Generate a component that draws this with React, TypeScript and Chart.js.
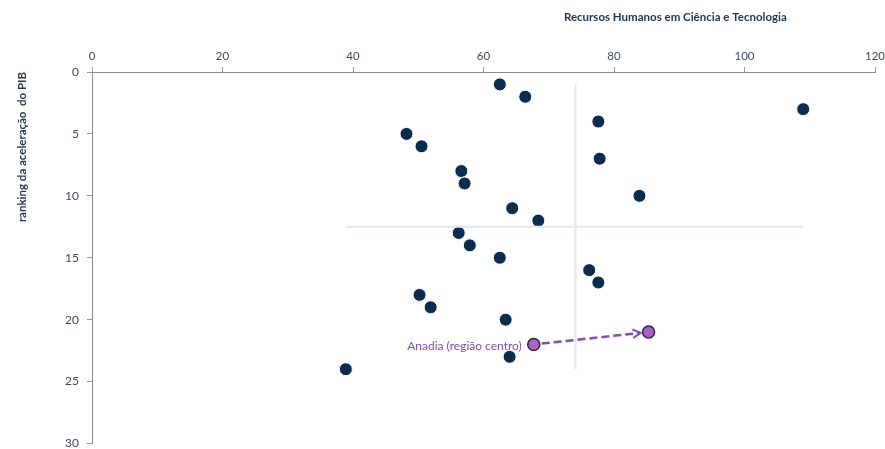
import React, { useEffect, useRef } from "react";
import { Chart, registerables } from "chart.js";

Chart.register(...registerables);

// Navy regions: RHCT (x) vs ranking of GDP acceleration (y)
const regionX = [62.5, 66.4, 109.0, 77.6, 48.2, 50.5, 77.8, 56.6, 57.1, 83.9, 64.4, 68.4, 56.2, 57.9, 62.5, 76.2, 77.6, 50.2, 51.9, 63.4, 64.0, 38.9];
const regionY = [1, 2, 3, 4, 5, 6, 7, 8, 9, 10, 11, 12, 13, 14, 15, 16, 17, 18, 19, 20, 23, 24];

// Anadia: current position and target position
const anadiaX = [67.7, 85.3];
const anadiaY = [22, 21];

// Reference cross lines
const crossVX = [74.1, 74.1];
const crossVY = [1, 24];
const crossHX = [38.9, 109.0];
const crossHY = [12.5, 12.5];

const xTicks = [0, 20, 40, 60, 80, 100, 120];
const yTicks = [0, 5, 10, 15, 20, 25, 30];

const xTitle = "Recursos Humanos em Ciência e Tecnologia";
const yTitle = "ranking da aceleração  do PIB";
const anadiaLabel = "Anadia (região centro)";

const FONT = "Lato, 'Open Sans', sans-serif";
const TICK_COLOR = "#3d4b5c";
const NAVY = "#0b2c4e";
const PURPLE = "#8a4aa8";

export default function App() {
  const ref = useRef<HTMLCanvasElement | null>(null);

  useEffect(() => {
    if (!ref.current) return;

    const overlay = {
      id: "overlay",
      afterDatasetsDraw(chart: any) {
        const ctx = chart.ctx;
        const xs = chart.scales.x;
        const ys = chart.scales.y;
        const x0 = xs.getPixelForValue(anadiaX[0]);
        const y0 = ys.getPixelForValue(anadiaY[0]);
        const x1 = xs.getPixelForValue(anadiaX[1]);
        const y1 = ys.getPixelForValue(anadiaY[1]);
        const ang = Math.atan2(y1 - y0, x1 - x0);
        const sx = x0 + Math.cos(ang) * 8;
        const sy = y0 + Math.sin(ang) * 8;
        const ex = x1 - Math.cos(ang) * 8;
        const ey = y1 - Math.sin(ang) * 8;
        ctx.save();
        ctx.strokeStyle = PURPLE;
        ctx.lineWidth = 2.5;
        ctx.setLineDash([8, 4]);
        ctx.beginPath();
        ctx.moveTo(sx, sy);
        ctx.lineTo(ex, ey);
        ctx.stroke();
        ctx.setLineDash([]);
        ctx.lineWidth = 2;
        const ah = 9;
        ctx.beginPath();
        ctx.moveTo(ex - Math.cos(ang - 0.5) * ah, ey - Math.sin(ang - 0.5) * ah);
        ctx.lineTo(ex, ey);
        ctx.lineTo(ex - Math.cos(ang + 0.5) * ah, ey - Math.sin(ang + 0.5) * ah);
        ctx.stroke();

        ctx.font = `12px ${FONT}`;
        ctx.fillStyle = PURPLE;
        ctx.textAlign = "right";
        ctx.textBaseline = "middle";
        ctx.fillText(anadiaLabel, x0 - 12, y0 + 2);

        ctx.font = `bold 11.5px ${FONT}`;
        ctx.fillStyle = "#1f3552";
        ctx.textAlign = "center";
        ctx.fillText(xTitle, xs.getPixelForValue(89.4), 17);

        ctx.translate(22, 147);
        ctx.rotate(-Math.PI / 2);
        ctx.fillText(yTitle, 0, 0);
        ctx.restore();
      },
    };

    const chart = new Chart(ref.current, {
      type: "scatter",
      data: {
        datasets: [
          {
            data: crossHX.map((x, i) => ({ x, y: crossHY[i] })),
            showLine: true,
            borderColor: "#ebe3f2",
            borderWidth: 2,
            pointRadius: 0,
          },
          {
            data: crossVX.map((x, i) => ({ x, y: crossVY[i] })),
            showLine: true,
            borderColor: "#ebe3f2",
            borderWidth: 2,
            pointRadius: 0,
          },
          {
            data: regionX.map((x, i) => ({ x, y: regionY[i] })),
            backgroundColor: NAVY,
            borderColor: "#ffffff",
            borderWidth: 1,
            pointRadius: 6.5,
          },
          {
            data: anadiaX.map((x, i) => ({ x, y: anadiaY[i] })),
            backgroundColor: "#a763c4",
            borderColor: "#2e2442",
            borderWidth: 1.5,
            pointRadius: 6,
          },
        ],
      },
      options: {
        animation: false,
        responsive: true,
        maintainAspectRatio: false,
        layout: { padding: 0 },
        plugins: { legend: { display: false }, tooltip: { enabled: false } },
        scales: {
          x: {
            type: "linear",
            position: "top",
            min: 0,
            max: 120,
            afterBuildTicks: (s: any) => {
              s.ticks = xTicks.map((v) => ({ value: v }));
            },
            afterFit: (s: any) => {
              s.height = 72;
              s.paddingLeft = 0;
              s.paddingRight = 10;
            },
            ticks: { color: TICK_COLOR, font: { family: FONT, size: 11.5 }, padding: 4 },
            grid: { drawOnChartArea: false, tickLength: 5, color: "#9a9a9a" },
            border: { display: true, color: "#8c8c8c", width: 1 },
          },
          y: {
            type: "linear",
            reverse: true,
            min: 0,
            max: 30,
            afterBuildTicks: (s: any) => {
              s.ticks = yTicks.map((v) => ({ value: v }));
            },
            afterFit: (s: any) => {
              s.width = 92;
              s.paddingTop = 0;
              s.paddingBottom = 3;
            },
            ticks: { color: TICK_COLOR, font: { family: FONT, size: 12 }, padding: 8 },
            grid: { drawOnChartArea: false, tickLength: 5, color: "#9a9a9a" },
            border: { display: true, color: "#8c8c8c", width: 1 },
          },
        },
      },
      plugins: [overlay],
    } as any);

    return () => chart.destroy();
  }, []);

  return (
    <div style={{ position: "absolute", left: 0, top: 0, width: 885, height: 449, overflow: "hidden" }}>
      <div style={{ position: "relative", width: 885, height: 451 }}>
        <canvas ref={ref} />
      </div>
    </div>
  );
}
